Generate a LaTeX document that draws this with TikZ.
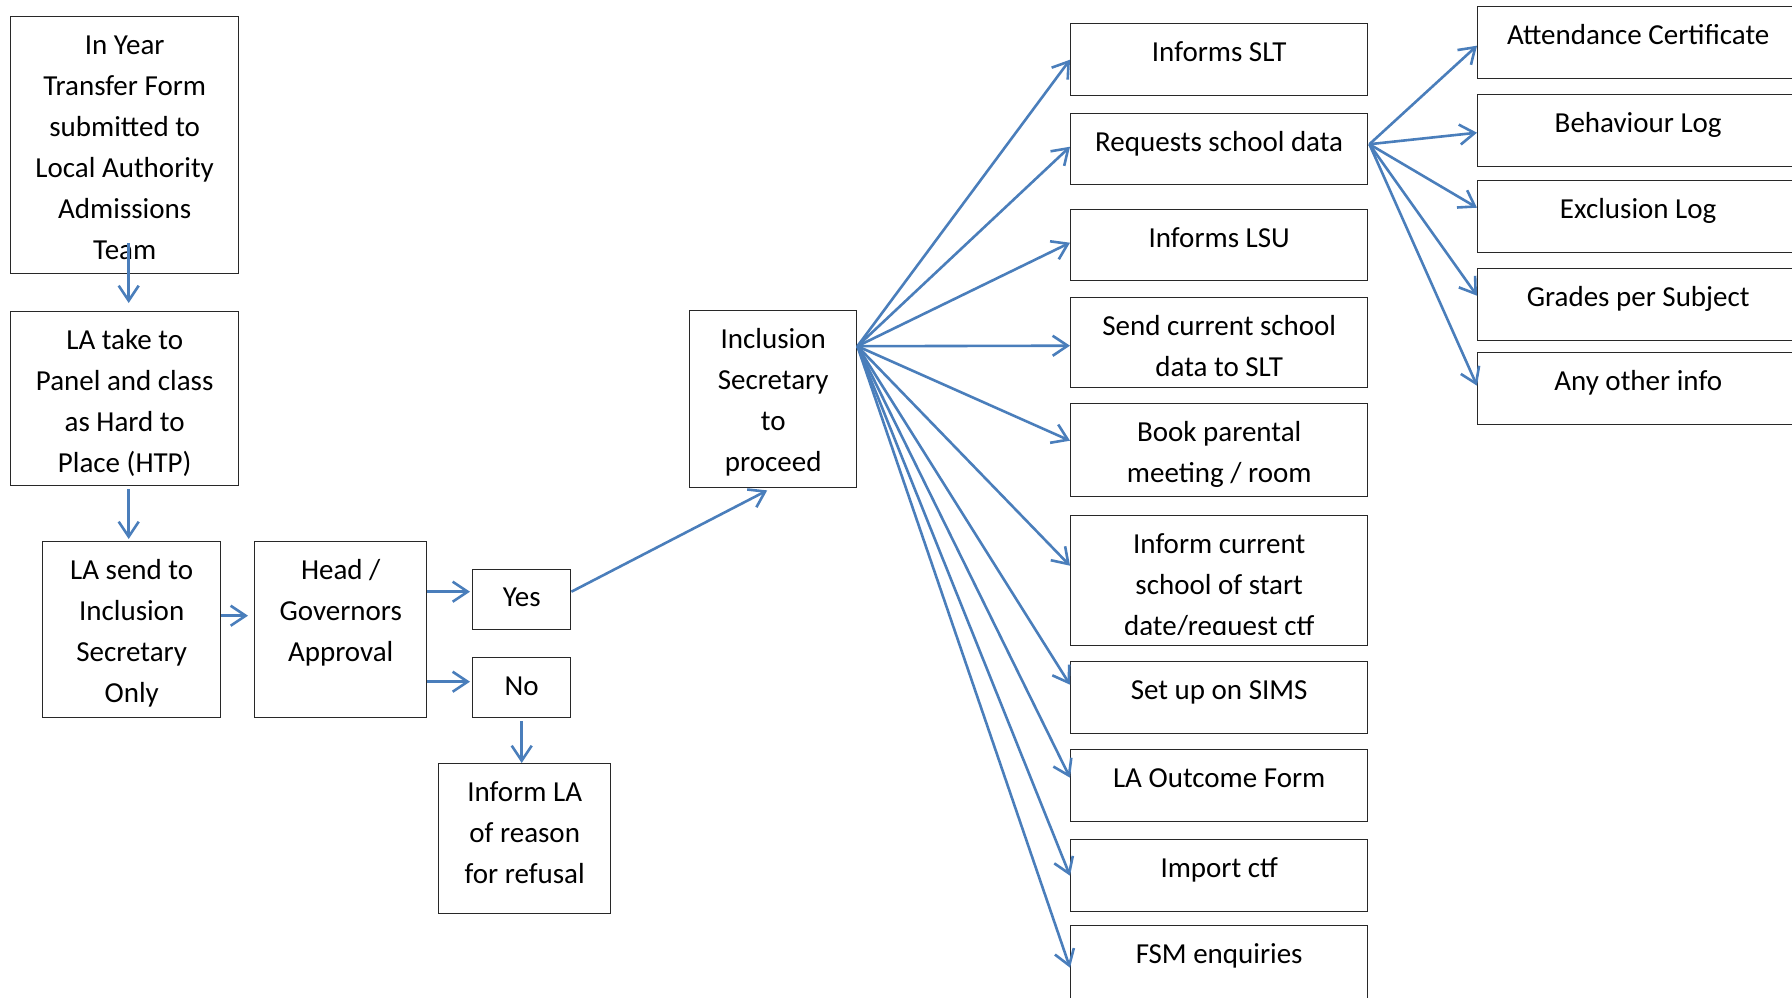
\documentclass[tikz,border=0pt]{standalone}
\usepackage{fontspec}
\setmainfont{Carlito}
\usetikzlibrary{arrows.meta,calc}
\definecolor{arrowblue}{RGB}{74,126,187}
\definecolor{boxline}{RGB}{40,40,40}
\newcommand\fstl{\rule{0pt}{30pt}}
\begin{document}
\begin{tikzpicture}[x=1pt,y=-1pt,
  box/.style={draw=boxline, line width=1.4pt, fill=white, inner sep=0pt, anchor=north west},
  sz/.style 2 args={minimum width=#1pt, minimum height=#2pt},
  txt/.style={anchor=north, inner sep=0pt, align=center, font=\fontsize{29}{41}\selectfont},
  arr/.style={draw=arrowblue, line width=2.6pt, -{Straight Barb[length=15pt,width=20pt,line width=2.6pt]}}]
\useasboundingbox (0,0) rectangle (1792,997);
\clip (0,0) rectangle (1792,997);

% ---- boxes ----
\node[box, sz={228}{257}] (form) at (10,16) {};
\node[box, sz={228}{174}] (take) at (10,311) {};
\node[box, sz={178}{176}] (send) at (42,541) {};
\node[box, sz={172}{176}] (head) at (254,541) {};
\node[box, sz={98}{60}] (yes) at (472,569) {};
\node[box, sz={98}{60}] (no) at (472,657) {};
\node[box, sz={172}{150}] (infla) at (438,763) {};
\node[box, sz={167}{177}] (incl) at (689,310) {};

\node[box, sz={297}{72}] (slt) at (1070,23) {};
\node[box, sz={297}{71}] (req) at (1070,113) {};
\node[box, sz={297}{71}] (lsu) at (1070,209) {};
\node[box, sz={297}{90}] (scd) at (1070,297) {};
\node[box, sz={297}{93}] (book) at (1070,403) {};
\node[box, sz={297}{130}] (icur) at (1070,515) {};
\node[box, sz={297}{72}] (sims) at (1070,661) {};
\node[box, sz={297}{72}] (lao) at (1070,749) {};
\node[box, sz={297}{72}] (imp) at (1070,839) {};
\node[box, sz={297}{80}] (fsm) at (1070,925) {};

\node[box, sz={321}{72}] (att) at (1477,6) {};
\node[box, sz={321}{72}] (beh) at (1477,94) {};
\node[box, sz={321}{72}] (exc) at (1477,180) {};
\node[box, sz={321}{72}] (grd) at (1477,268) {};
\node[box, sz={321}{72}] (any) at (1477,352) {};

% ---- texts ----
\node[txt] (tform) at ($(form.north)+(0,8)$) {\fstl In Year\\Transfer Form\\submitted to\\Local Authority\\Admissions\\Team};
\node[txt] (ttake) at ($(take.north)+(0,8)$) {\fstl LA take to\\Panel and class\\as Hard to\\Place (HTP)};
\node[txt] (tsend) at ($(send.north)+(0,8)$) {\fstl LA send to\\Inclusion\\Secretary\\Only};
\node[txt] (thead) at ($(head.north)+(0,8)$) {\fstl Head /\\Governors\\Approval};
\node[txt] (tyes) at ($(yes.north)+(0,7)$) {\fstl Yes};
\node[txt] (tno) at ($(no.north)+(0,8)$) {\fstl No};
\node[txt] (tinfla) at ($(infla.north)+(0,8)$) {\fstl Inform LA\\of reason\\for refusal};
\node[txt] (tincl) at ($(incl.north)+(0,8)$) {\fstl Inclusion\\Secretary\\to\\proceed};

\node[txt] (tslt) at ($(slt.north)+(0,8)$) {\fstl Informs SLT};
\node[txt] (treq) at ($(req.north)+(0,8)$) {\fstl Requests school data};
\node[txt] (tlsu) at ($(lsu.north)+(0,8)$) {\fstl Informs LSU};
\node[txt] (tscd) at ($(scd.north)+(0,8)$) {\fstl Send current school\\data to SLT};
\node[txt] (tbook) at ($(book.north)+(0,8)$) {\fstl Book parental\\meeting / room};
\begin{scope}
\clip (icur.north west) rectangle ($(icur.south east)+(0,-12)$);
\node[txt] (ticur) at ($(icur.north)+(0,8)$) {\fstl Inform current\\school of start\\date/request ctf};
\end{scope}
\node[txt] (tsims) at ($(sims.north)+(0,8)$) {\fstl Set up on SIMS};
\node[txt] (tlao) at ($(lao.north)+(0,8)$) {\fstl LA Outcome Form};
\node[txt] (timp) at ($(imp.north)+(0,8)$) {\fstl Import ctf};
\node[txt] (tfsm) at ($(fsm.north)+(0,8)$) {\fstl FSM enquiries};

\node[txt] (tatt) at ($(att.north)+(0,8)$) {\fstl Attendance Certificate};
\node[txt] (tbeh) at ($(beh.north)+(0,8)$) {\fstl Behaviour Log};
\node[txt] (texc) at ($(exc.north)+(0,8)$) {\fstl Exclusion Log};
\node[txt] (tgrd) at ($(grd.north)+(0,8)$) {\fstl Grades per Subject};
\node[txt] (tany) at ($(any.north)+(0,8)$) {\fstl Any other info};

% ---- connectors ----
\draw[arr] ($(form.south)+(4,-31)$) -- ($(take.north)+(4,-8)$);
\draw[arr] ($(take.south)+(4,3)$) -- ($(send.north)+(-3,-2)$);
\draw[arr] ($(send.east)+(0,-14)$) -- ($(head.west)+(-6,-14)$);
\draw[arr] ($(head.east)+(0,-38)$) -- ($(yes.west)+(-2,-8)$);
\draw[arr] ($(head.east)+(0,52)$) -- ($(no.west)+(-2,-6)$);
\draw[arr] ($(no.south)+(0,3)$) -- ($(infla.north)+(-3,0)$);
\draw[arr] ($(yes.east)+(0,-8)$) -- ($(incl.south)+(-6,2)$);

\coordinate (f1) at ($(incl.east)+(0,-53)$);
\draw[arr] (f1) -- (slt.west);
\draw[arr] (f1) -- ($(req.west)+(0,-2.5)$);
\draw[arr] (f1) -- ($(lsu.west)+(0,-2.5)$);
\draw[arr] (f1) -- ($(scd.west)+(0,3)$);
\draw[arr] (f1) -- ($(book.west)+(0,-9.5)$);
\draw[arr] (f1) -- ($(icur.west)+(0,-15)$);
\draw[arr] (f1) -- ($(sims.west)+(0,-13)$);
\draw[arr] (f1) -- ($(lao.west)+(0,-8)$);
\draw[arr] (f1) -- (imp.west);
\draw[arr] (f1) -- ($(fsm.west)+(0,2)$);

\coordinate (f2) at ($(req.east)+(1,-5)$);
\draw[arr] (f2) -- ($(att.west)+(0,3)$);
\draw[arr] (f2) -- ($(beh.west)+(0,2)$);
\draw[arr] (f2) -- ($(exc.west)+(0,-9)$);
\draw[arr] (f2) -- ($(grd.west)+(0,-9)$);
\draw[arr] (f2) -- ($(any.west)+(0,-3)$);
\end{tikzpicture}
\end{document}
